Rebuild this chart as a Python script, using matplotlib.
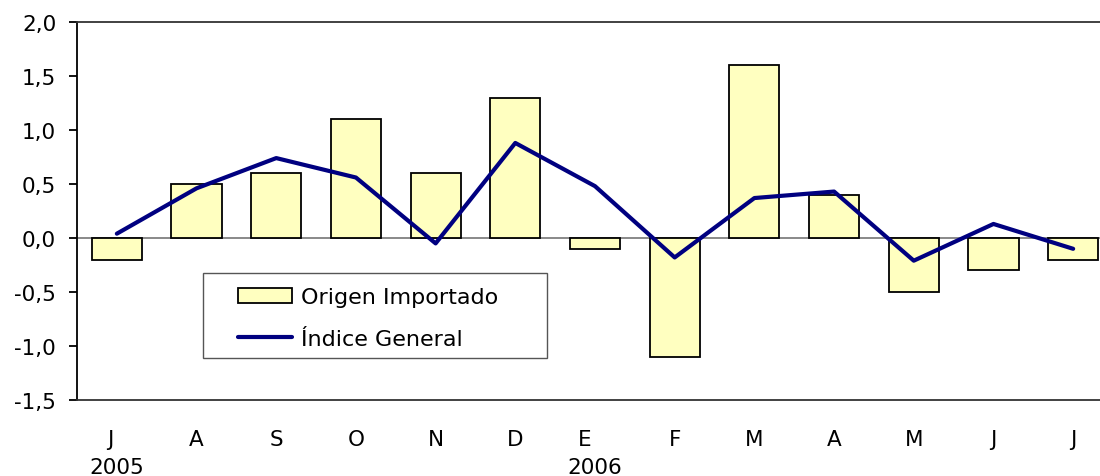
import matplotlib.pyplot as plt
from matplotlib.patches import Rectangle
from matplotlib.transforms import ScaledTranslation

# datos
meses = ['J', 'A', 'S', 'O', 'N', 'D', 'E', 'F', 'M', 'A', 'M', 'J', 'J']
anios = {0: '2005', 6: '2006'}
origen_importado = [-0.2, 0.5, 0.6, 1.1, 0.6, 1.3, -0.1, -1.1, 1.6, 0.4, -0.5, -0.3, -0.2]
indice_general = [0.04, 0.46, 0.74, 0.56, -0.05, 0.88, 0.48, -0.18, 0.37, 0.43, -0.21, 0.13, -0.10]
yticks = [-1.5, -1.0, -0.5, 0.0, 0.5, 1.0, 1.5, 2.0]
ytick_labels = ['-1,5', '-1,0', '-0,5', '0,0', '0,5', '1,0', '1,5', '2,0']

plt.rcParams['font.family'] = ['DejaVu Sans']
fs = 15.5

fig = plt.figure(figsize=(11, 4.77), dpi=100)
ax = fig.add_axes([77 / 1100, 76 / 477, 1036 / 1100, 378 / 477])

x = list(range(len(meses)))
ax.axhline(0, color='#808080', lw=1.3, zorder=1)
barras = ax.bar(x, origen_importado, width=0.63, color='#FFFFC0', edgecolor='black',
                linewidth=1.3, zorder=2, label='Origen Importado')
linea, = ax.plot(x, indice_general, color='#000080', lw=3.0, zorder=3,
                 solid_capstyle='round', label='Índice General')

ax.set_xlim(-0.5, len(meses) - 0.5)
ax.set_ylim(-1.5, 2.0)
ax.set_yticks(yticks)
ax.set_yticklabels(ytick_labels, fontsize=fs)
ax.set_xticks(x)
ax.set_xticklabels(meses, fontsize=fs)
ax.tick_params(axis='x', length=0, pad=21)
ax.tick_params(axis='y', length=6, width=1.3, pad=9)

# J y E algo corridas a la izquierda como en el original
for i, dx in [(0, -7), (6, -10)]:
    lbl = ax.get_xticklabels()[i]
    lbl.set_transform(lbl.get_transform() + ScaledTranslation(dx / 100, 0, fig.dpi_scale_trans))

for i, a in anios.items():
    ax.text(i, -0.176, a, transform=ax.get_xaxis_transform(), ha='center', va='center',
            fontsize=fs)

ax.spines['right'].set_visible(False)
for s in ['left', 'top', 'bottom']:
    ax.spines[s].set_linewidth(1.3)
ax.spines['top'].set_color('#333333')
ax.spines['bottom'].set_color('#333333')

# leyenda con marco propio
fig.patches.append(Rectangle((203 / 1100, 1 - 359 / 477), 344 / 1100, 85 / 477,
                             transform=fig.transFigure, facecolor='white',
                             edgecolor='#555555', lw=1.0, zorder=5))
leg = fig.legend([barras, linea], ['Origen Importado', 'Índice General'],
                 loc='upper left', bbox_to_anchor=(238 / 1100, 1 - 288 / 477),
                 frameon=False, fontsize=16, borderpad=0, borderaxespad=0,
                 handlelength=2.45, handleheight=0.64, handletextpad=0.4,
                 labelspacing=0.98)
leg.set_zorder(6)

fig.savefig('out.png', dpi=100)
